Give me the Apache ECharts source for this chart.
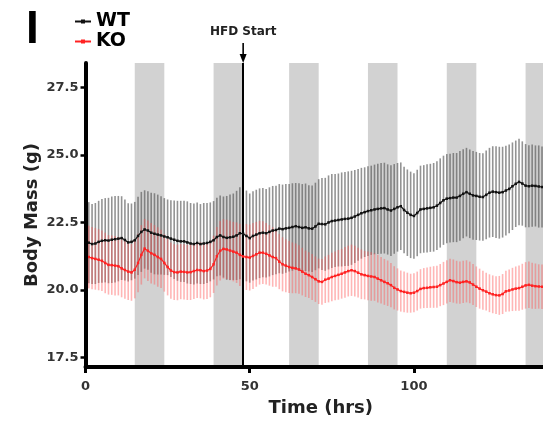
<!DOCTYPE html>
<html>
<head>
<meta charset="utf-8">
<script src="https://cdn.jsdelivr.net/npm/echarts@6/dist/echarts.min.js"></script>
<style>html,body{margin:0;padding:0;background:#fff}#c{width:543px;height:422px}</style>
</head>
<body>
<div id="c"></div>
<script>
// ---------- data ----------
const hours = [0,1,2,3,4,5,6,7,8,9,10,11,12,13,14,15,16,17,18,19,20,21,22,23,24,25,26,27,28,29,30,31,32,33,34,35,36,37,38,39,40,41,42,43,44,45,46,47,48,49,50,51,52,53,54,55,56,57,58,59,60,61,62,63,64,65,66,67,68,69,70,71,72,73,74,75,76,77,78,79,80,81,82,83,84,85,86,87,88,89,90,91,92,93,94,95,96,97,98,99,100,101,102,103,104,105,106,107,108,109,110,111,112,113,114,115,116,117,118,119,120,121,122,123,124,125,126,127,128,129,130,131,132,133,134,135,136,137,138,139];

const wtMean = [
21.8,21.75,21.7,21.72,21.78,21.82,21.84,21.83,21.86,21.88,
21.9,21.92,21.85,21.76,21.78,21.84,22.0,22.15,22.24,22.2,
22.12,22.08,22.05,22.02,21.98,21.95,21.9,21.86,21.82,21.8,
21.8,21.76,21.72,21.7,21.74,21.7,21.72,21.74,21.78,21.84,
21.96,22.02,21.96,21.93,21.95,21.97,22.02,22.1,22.08,22.0,
21.92,22.0,22.05,22.1,22.12,22.1,22.15,22.2,22.22,22.27,
22.25,22.28,22.3,22.33,22.36,22.33,22.3,22.32,22.28,22.27,
22.35,22.45,22.44,22.43,22.5,22.55,22.57,22.59,22.61,22.63,
22.64,22.67,22.72,22.78,22.84,22.88,22.92,22.95,22.98,23.0,
23.02,23.03,22.98,22.94,23.0,23.06,23.1,22.96,22.86,22.78,
22.74,22.85,22.98,23.0,23.02,23.04,23.06,23.12,23.22,23.32,
23.38,23.4,23.42,23.42,23.48,23.56,23.62,23.56,23.5,23.48,
23.45,23.44,23.52,23.6,23.64,23.62,23.6,23.62,23.68,23.74,
23.84,23.93,24.0,23.94,23.86,23.84,23.86,23.85,23.83,23.81];

const wtSem = [
1.55,1.5,1.48,1.5,1.52,1.55,1.56,1.58,1.6,1.6,
1.58,1.55,1.5,1.45,1.42,1.42,1.45,1.48,1.45,1.45,
1.48,1.5,1.48,1.45,1.42,1.4,1.42,1.45,1.48,1.5,
1.5,1.52,1.5,1.5,1.5,1.48,1.5,1.48,1.46,1.45,
1.45,1.48,1.5,1.55,1.58,1.6,1.65,1.7,1.7,1.68,
1.65,1.65,1.66,1.66,1.65,1.64,1.65,1.65,1.64,1.65,
1.65,1.64,1.62,1.62,1.6,1.62,1.62,1.62,1.6,1.6,
1.62,1.65,1.7,1.72,1.74,1.74,1.72,1.72,1.74,1.74,
1.75,1.74,1.72,1.7,1.68,1.66,1.66,1.65,1.66,1.67,
1.68,1.68,1.67,1.68,1.66,1.64,1.62,1.6,1.6,1.6,
1.58,1.6,1.62,1.62,1.63,1.63,1.64,1.64,1.65,1.65,
1.65,1.64,1.65,1.65,1.66,1.65,1.64,1.64,1.64,1.63,
1.62,1.62,1.64,1.66,1.68,1.7,1.7,1.68,1.66,1.64,
1.62,1.6,1.6,1.56,1.54,1.52,1.52,1.5,1.52,1.5];

const koMean = [
21.25,21.22,21.18,21.15,21.12,21.08,21.0,20.93,20.92,20.9,
20.88,20.8,20.74,20.68,20.65,20.75,21.0,21.3,21.53,21.45,
21.36,21.3,21.22,21.15,21.0,20.85,20.72,20.66,20.65,20.68,
20.67,20.65,20.66,20.7,20.74,20.73,20.7,20.72,20.78,20.95,
21.25,21.45,21.52,21.5,21.46,21.42,21.38,21.3,21.24,21.22,
21.2,21.26,21.32,21.38,21.38,21.34,21.28,21.22,21.18,21.05,
20.95,20.9,20.85,20.82,20.8,20.76,20.68,20.6,20.55,20.48,
20.4,20.32,20.3,20.38,20.42,20.48,20.52,20.56,20.6,20.65,
20.7,20.73,20.7,20.64,20.58,20.55,20.52,20.5,20.48,20.42,
20.36,20.3,20.25,20.18,20.08,20.02,19.96,19.93,19.9,19.88,
19.9,19.96,20.04,20.07,20.08,20.1,20.11,20.12,20.18,20.24,
20.3,20.36,20.33,20.29,20.27,20.3,20.32,20.28,20.2,20.12,
20.05,19.99,19.94,19.88,19.84,19.81,19.8,19.85,19.95,19.98,
20.02,20.05,20.07,20.12,20.17,20.19,20.16,20.14,20.13,20.12];

const koSem = [
1.17,1.16,1.15,1.14,1.13,1.12,1.12,1.1,1.1,1.1,
1.08,1.07,1.06,1.05,1.05,1.06,1.08,1.1,1.1,1.12,
1.12,1.1,1.1,1.08,1.06,1.05,1.04,1.03,1.03,1.02,
1.02,1.02,1.03,1.03,1.04,1.04,1.05,1.05,1.05,1.06,
1.08,1.1,1.1,1.1,1.1,1.1,1.12,1.15,1.2,1.22,
1.22,1.22,1.2,1.18,1.16,1.14,1.12,1.1,1.06,1.02,
1.0,0.98,0.96,0.94,0.92,0.9,0.88,0.86,0.85,0.85,
0.84,0.84,0.85,0.86,0.88,0.9,0.9,0.92,0.92,0.94,
0.94,0.95,0.94,0.92,0.92,0.9,0.9,0.9,0.88,0.88,
0.86,0.85,0.84,0.82,0.8,0.78,0.76,0.75,0.74,0.72,
0.72,0.72,0.73,0.74,0.75,0.76,0.77,0.78,0.78,0.8,
0.8,0.8,0.8,0.79,0.78,0.78,0.78,0.77,0.76,0.75,
0.74,0.72,0.7,0.7,0.7,0.7,0.72,0.74,0.76,0.78,
0.8,0.82,0.84,0.85,0.86,0.86,0.85,0.84,0.82,0.82];

const darkStart = [15, 39, 62, 86, 110, 134];
const darkEnd   = [24, 48, 71, 95, 119, 143];
const hfdHour = 48;
const yTicks = [17.5, 20.0, 22.5, 25.0, 27.5];
const xTicks = [0, 50, 100];
const seriesNames = ['WT', 'KO'];

// ---------- chart ----------
const X_MAX = 139.3;
const FONT = 'DejaVu Sans';
const chart = echarts.init(document.getElementById('c'), null, {renderer: 'canvas'});

function errData(mean, sem) {
  return hours.map((h, i) => [h, mean[i] - sem[i], mean[i] + sem[i]]);
}
function errSeries(name, data, color, z) {
  return {
    type: 'custom', name: name + '_err', z: z, silent: true, clip: true,
    data: data, encode: {x: 0, y: [1, 2]},
    renderItem: function (params, api) {
      const a = api.coord([api.value(0), api.value(1)]);
      const b = api.coord([api.value(0), api.value(2)]);
      return {type: 'line', shape: {x1: a[0], y1: a[1], x2: b[0], y2: b[1]},
              style: {stroke: color, lineWidth: 1.6}};
    }
  };
}

const bands = darkStart.map((s, i) => [{xAxis: s}, {xAxis: Math.min(darkEnd[i], X_MAX)}]);

chart.setOption({
  animation: false,
  textStyle: {fontFamily: FONT},
  grid: {left: 85.5, right: 0, top: 63, bottom: 52.5, containLabel: false},
  legend: {
    data: seriesNames, orient: 'vertical', left: 74, top: 12,
    itemWidth: 16, itemHeight: 5, itemGap: 1, padding: 0,
    textStyle: {fontFamily: FONT, fontWeight: 'bold', fontSize: 19, color: '#000'}
  },
  xAxis: {
    type: 'value', min: 0, max: X_MAX, z: 20,
    name: 'Time (hrs)', nameLocation: 'middle', nameGap: 32, nameMoveOverlap: false,
    nameTextStyle: {fontFamily: FONT, fontWeight: 'bold', fontSize: 18, color: '#222', padding: [0, 0, 0, 13]},
    splitLine: {show: false},
    axisLine: {show: true, onZero: false, lineStyle: {color: '#000', width: 4}},
    axisTick: {show: true, length: 6, lineStyle: {color: '#000', width: 3}, customValues: xTicks},
    axisLabel: {customValues: xTicks, margin: 13, fontFamily: FONT, fontWeight: 'bold', fontSize: 13, color: '#333'}
  },
  yAxis: {
    type: 'value', min: 17.15, max: 28.4, z: 20,
    name: 'Body Mass (g)', nameLocation: 'middle', nameGap: 44, nameRotate: 90, nameMoveOverlap: false,
    nameTextStyle: {fontFamily: FONT, fontWeight: 'bold', fontSize: 18, color: '#222'},
    splitLine: {show: false},
    axisLine: {show: true, onZero: false, lineStyle: {color: '#000', width: 4}},
    axisTick: {show: true, length: 5, lineStyle: {color: '#000', width: 2.5}, customValues: yTicks},
    axisLabel: {customValues: yTicks, margin: 7, fontFamily: FONT, fontWeight: 'bold', fontSize: 13, color: '#333',
                formatter: v => v.toFixed(1)}
  },
  series: [
    {
      type: 'line', name: 'bands', data: [], z: 0, silent: true,
      markArea: {silent: true, itemStyle: {color: '#d2d2d2'}, data: bands}
    },
    errSeries('WT', errData(wtMean, wtSem), 'rgba(80,80,80,0.62)', 2),
    errSeries('KO', errData(koMean, koSem), 'rgba(255,80,80,0.42)', 3),
    {
      type: 'line', name: 'WT', z: 5, data: hours.map((h, i) => [h, wtMean[i]]),
      symbol: 'rect', symbolSize: 2.5, showAllSymbol: true,
      itemStyle: {color: '#111'}, lineStyle: {color: '#111', width: 1.2},
      markLine: {
        silent: true, symbol: ['none', 'none'], label: {show: false},
        lineStyle: {color: '#000', width: 2, type: 'solid'},
        data: [{xAxis: hfdHour}]
      }
    },
    {
      type: 'line', name: 'KO', z: 5, data: hours.map((h, i) => [h, koMean[i]]),
      symbol: 'rect', symbolSize: 2.5, showAllSymbol: true,
      itemStyle: {color: '#f22'}, lineStyle: {color: '#f22', width: 1.2}
    }
  ]
});

// annotations positioned from the axis scale
const hx = chart.convertToPixel({xAxisIndex: 0}, hfdHour);
chart.setOption({
  graphic: [
    {type: 'text', left: 26, top: 7, style: {text: 'I', fontFamily: 'Liberation Sans', fontWeight: 'bold', fontSize: 46, fill: '#000'}},
    {type: 'text', x: hx, y: 32, style: {text: 'HFD Start', align: 'center', verticalAlign: 'middle',
      fontFamily: FONT, fontWeight: 'bold', fontSize: 12, fill: '#222'}},
    {type: 'line', shape: {x1: hx, y1: 43, x2: hx, y2: 60}, style: {stroke: '#000', lineWidth: 1.6}},
    {type: 'polygon', shape: {points: [[hx - 3.5, 54], [hx + 3.5, 54], [hx, 63]]}, style: {fill: '#000'}}
  ]
});
</script>
</body>
</html>
